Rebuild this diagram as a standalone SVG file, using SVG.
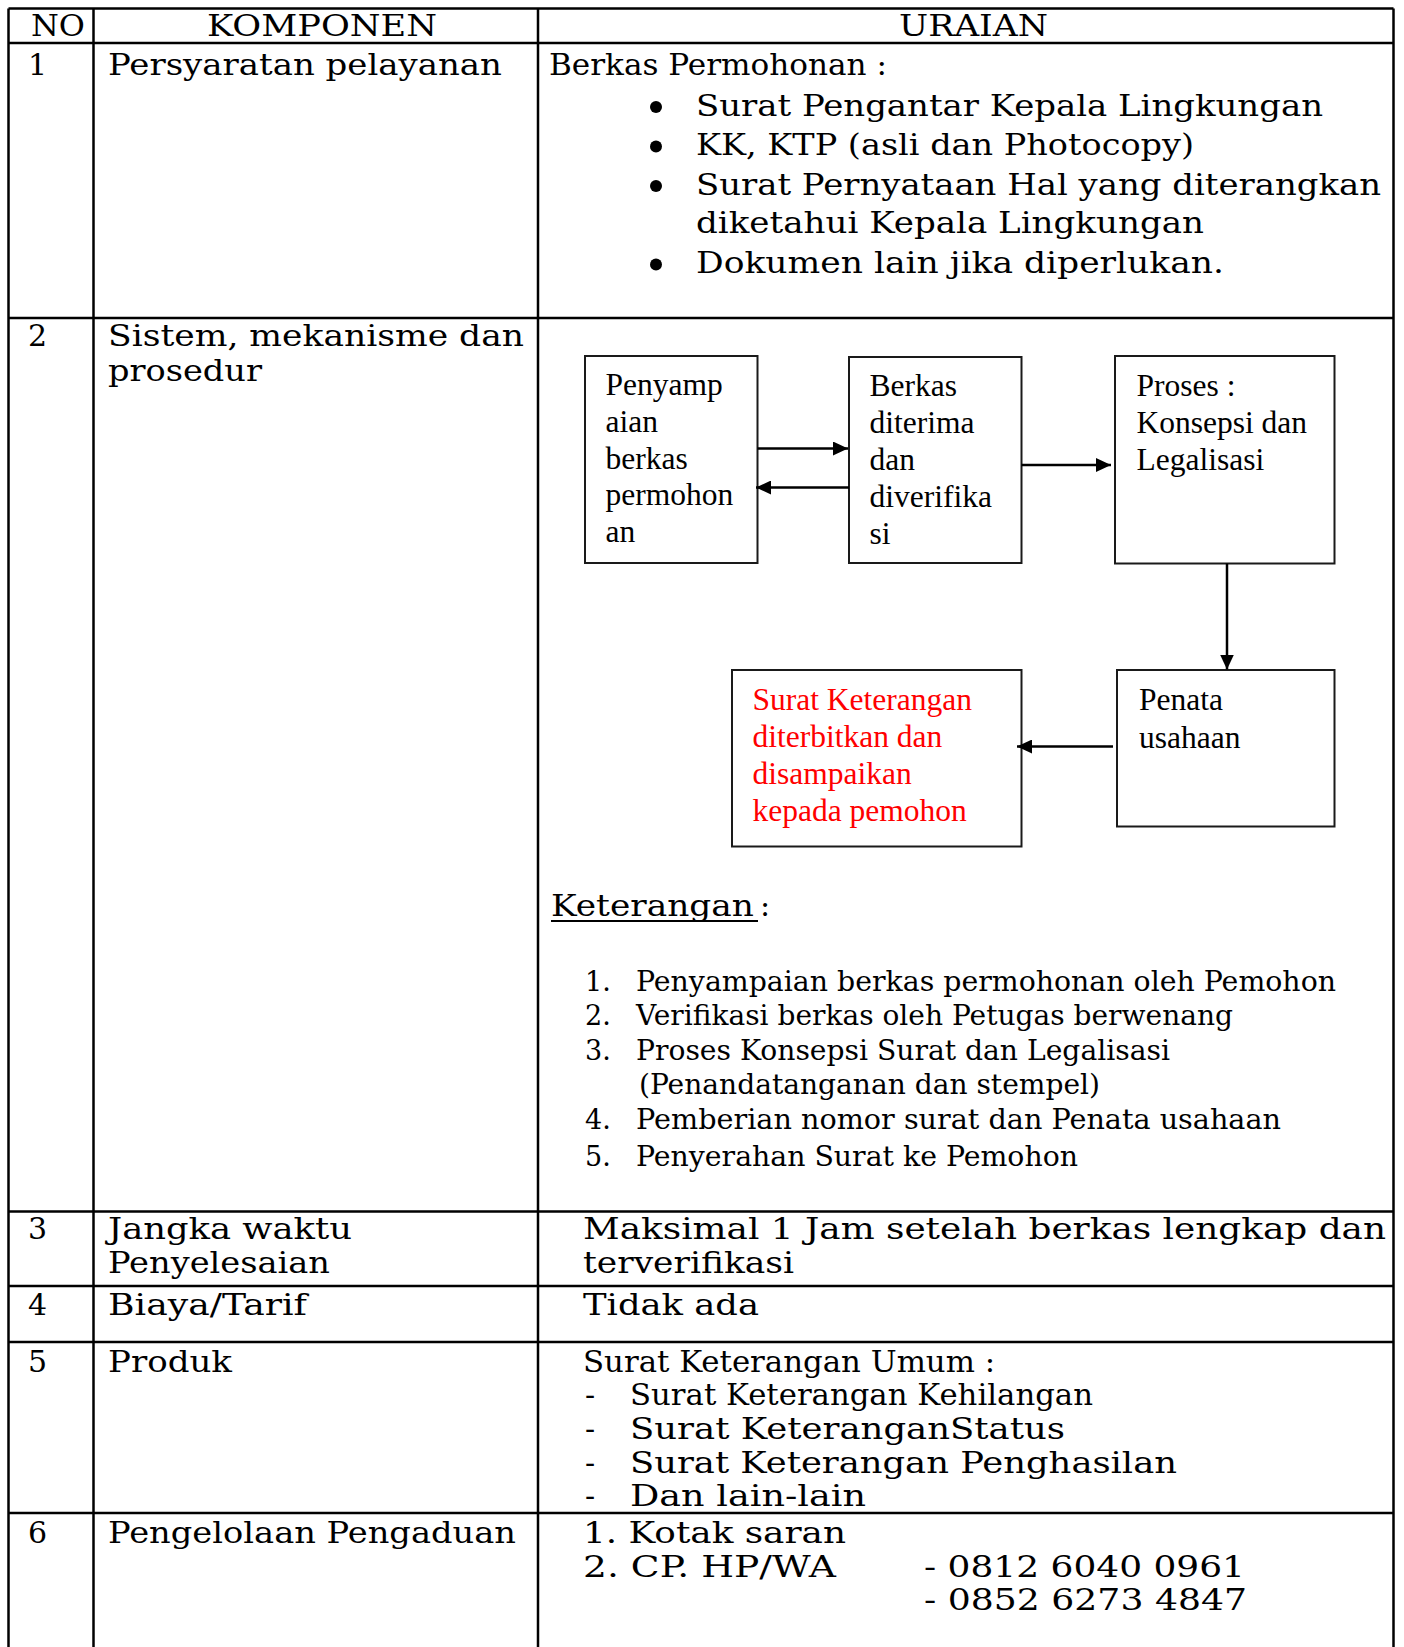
<svg xmlns="http://www.w3.org/2000/svg" width="1404" height="1647" viewBox="0 0 1404 1647">
<style>
.grid{stroke:#000;stroke-width:2.5;fill:none}
.t{font-family:"DejaVu Serif","Liberation Serif",serif;font-size:30px;fill:#000}
.k{font-family:"DejaVu Serif","Liberation Serif",serif;font-size:27px;fill:#000}
.b{font-family:"Liberation Serif","Times New Roman",serif;font-size:31.5px;fill:#000}
.red{fill:#ff0000}
.box{fill:#fff;stroke:#1a1a1a;stroke-width:2}
.conn{stroke:#000;stroke-width:2.5;fill:none}
</style>
<defs>
<marker id="ah" viewBox="0 0 15 14" refX="15" refY="7" markerWidth="15" markerHeight="14" markerUnits="userSpaceOnUse" orient="auto">
<path d="M0,0 L15,7 L0,14 Z" fill="#000"/>
</marker>
</defs>
<rect width="1404" height="1647" fill="#fff"/>

<g id="table">
<line class="grid" x1="8.5" y1="8.5" x2="1393.5" y2="8.5"/>
<line class="grid" x1="8.5" y1="43" x2="1393.5" y2="43"/>
<line class="grid" x1="8.5" y1="318" x2="1393.5" y2="318"/>
<line class="grid" x1="8.5" y1="1211.5" x2="1393.5" y2="1211.5"/>
<line class="grid" x1="8.5" y1="1286" x2="1393.5" y2="1286"/>
<line class="grid" x1="8.5" y1="1342" x2="1393.5" y2="1342"/>
<line class="grid" x1="8.5" y1="1513" x2="1393.5" y2="1513"/>
<line class="grid" x1="8.5" y1="8.5" x2="8.5" y2="1647"/>
<line class="grid" x1="93.5" y1="8.5" x2="93.5" y2="1647"/>
<line class="grid" x1="538" y1="8.5" x2="538" y2="1647"/>
<line class="grid" x1="1393.5" y1="8.5" x2="1393.5" y2="1647"/>
</g>

<g id="header">
<text class="t" x="31" y="36" textLength="54" lengthAdjust="spacingAndGlyphs">NO</text>
<text class="t" x="207" y="36" textLength="230" lengthAdjust="spacingAndGlyphs">KOMPONEN</text>
<text class="t" x="899" y="36" textLength="149" lengthAdjust="spacingAndGlyphs">URAIAN</text>
</g>

<g id="row1">
<text class="t" x="28" y="75">1</text>
<text class="t" x="108" y="75" textLength="394" lengthAdjust="spacingAndGlyphs">Persyaratan pelayanan</text>
<text class="t" x="549" y="75" textLength="338" lengthAdjust="spacingAndGlyphs">Berkas Permohonan :</text>
<circle cx="656" cy="107" r="6"/>
<circle cx="656" cy="146.5" r="6"/>
<circle cx="656" cy="186" r="6"/>
<circle cx="656" cy="264.5" r="6"/>
<text class="t" x="696" y="115.5" textLength="627" lengthAdjust="spacingAndGlyphs">Surat Pengantar Kepala Lingkungan</text>
<text class="t" x="696" y="154.5" textLength="498" lengthAdjust="spacingAndGlyphs">KK, KTP (asli dan Photocopy)</text>
<text class="t" x="696" y="194.5" textLength="685" lengthAdjust="spacingAndGlyphs">Surat Pernyataan Hal yang diterangkan</text>
<text class="t" x="696" y="232.5" textLength="508" lengthAdjust="spacingAndGlyphs">diketahui Kepala Lingkungan</text>
<text class="t" x="696" y="272.5" textLength="528" lengthAdjust="spacingAndGlyphs">Dokumen lain jika diperlukan.</text>
</g>

<g id="row2">
<text class="t" x="28" y="346">2</text>
<text class="t" x="108" y="346" textLength="416" lengthAdjust="spacingAndGlyphs">Sistem, mekanisme dan</text>
<text class="t" x="108" y="381" textLength="154" lengthAdjust="spacingAndGlyphs">prosedur</text>
</g>

<g id="node-penyampaian">
<rect class="box" x="585" y="356" width="172.5" height="207"/>
<text class="b" x="605.5" y="395">Penyamp</text>
<text class="b" x="605.5" y="432">aian</text>
<text class="b" x="605.5" y="468.5">berkas</text>
<text class="b" x="605.5" y="505">permohon</text>
<text class="b" x="605.5" y="542">an</text>
</g>

<g id="node-berkas">
<rect class="box" x="849" y="357" width="172.5" height="206"/>
<text class="b" x="869.5" y="395.5">Berkas</text>
<text class="b" x="869.5" y="433">diterima</text>
<text class="b" x="869.5" y="469.5">dan</text>
<text class="b" x="869.5" y="507">diverifika</text>
<text class="b" x="869.5" y="543.5">si</text>
</g>

<g id="node-proses">
<rect class="box" x="1115" y="356" width="219.5" height="207.5"/>
<text class="b" x="1136.5" y="395.5">Proses :</text>
<text class="b" x="1136.5" y="432.5">Konsepsi dan</text>
<text class="b" x="1136.5" y="469.5">Legalisasi</text>
</g>

<g id="node-penata">
<rect class="box" x="1117" y="670" width="217.5" height="156.5"/>
<text class="b" x="1139" y="709.5">Penata</text>
<text class="b" x="1139" y="747.5">usahaan</text>
</g>

<g id="node-surat">
<rect class="box" x="732" y="670" width="289.5" height="176.5"/>
<text class="b red" x="752.5" y="709.5">Surat Keterangan</text>
<text class="b red" x="752.5" y="747">diterbitkan dan</text>
<text class="b red" x="752.5" y="784">disampaikan</text>
<text class="b red" x="752.5" y="821">kepada pemohon</text>
</g>

<g id="connectors">
<line class="conn" x1="757.5" y1="448.5" x2="848" y2="448.5" marker-end="url(#ah)"/>
<line class="conn" x1="849" y1="487.5" x2="756" y2="487.5" marker-end="url(#ah)"/>
<line class="conn" x1="1021.5" y1="465" x2="1111" y2="465" marker-end="url(#ah)"/>
<line class="conn" x1="1227" y1="563.5" x2="1227" y2="669.5" marker-end="url(#ah)"/>
<line class="conn" x1="1113" y1="746.5" x2="1017" y2="746.5" marker-end="url(#ah)"/>
</g>

<g id="keterangan">
<text class="t" x="551" y="916" textLength="203" lengthAdjust="spacingAndGlyphs">Keterangan</text>
<text class="t" x="760" y="916">:</text>
<line x1="551" y1="921" x2="758" y2="921" stroke="#000" stroke-width="2"/>
<text class="k" x="585" y="991">1.</text>
<text class="k" x="636" y="991" textLength="700" lengthAdjust="spacingAndGlyphs">Penyampaian berkas permohonan oleh Pemohon</text>
<text class="k" x="585" y="1025">2.</text>
<text class="k" x="636" y="1025" textLength="597" lengthAdjust="spacingAndGlyphs">Verifikasi berkas oleh Petugas berwenang</text>
<text class="k" x="585" y="1060">3.</text>
<text class="k" x="636" y="1060" textLength="534" lengthAdjust="spacingAndGlyphs">Proses Konsepsi Surat dan Legalisasi</text>
<text class="k" x="639" y="1094" textLength="461" lengthAdjust="spacingAndGlyphs">(Penandatanganan dan stempel)</text>
<text class="k" x="585" y="1129">4.</text>
<text class="k" x="636" y="1129" textLength="645" lengthAdjust="spacingAndGlyphs">Pemberian nomor surat dan Penata usahaan</text>
<text class="k" x="585" y="1166">5.</text>
<text class="k" x="636" y="1166" textLength="442" lengthAdjust="spacingAndGlyphs">Penyerahan Surat ke Pemohon</text>
</g>

<g id="row3">
<text class="t" x="28" y="1239">3</text>
<text class="t" x="108" y="1239" textLength="244" lengthAdjust="spacingAndGlyphs">Jangka waktu</text>
<text class="t" x="108" y="1273" textLength="222" lengthAdjust="spacingAndGlyphs">Penyelesaian</text>
<text class="t" x="583" y="1239" textLength="803" lengthAdjust="spacingAndGlyphs">Maksimal 1 Jam setelah berkas lengkap dan</text>
<text class="t" x="583" y="1273" textLength="211" lengthAdjust="spacingAndGlyphs">terverifikasi</text>
</g>

<g id="row4">
<text class="t" x="28" y="1315">4</text>
<text class="t" x="108" y="1315" textLength="199" lengthAdjust="spacingAndGlyphs">Biaya/Tarif</text>
<text class="t" x="583" y="1315" textLength="176" lengthAdjust="spacingAndGlyphs">Tidak ada</text>
</g>

<g id="row5">
<text class="t" x="28" y="1372">5</text>
<text class="t" x="108" y="1372" textLength="124" lengthAdjust="spacingAndGlyphs">Produk</text>
<text class="t" x="583" y="1372" textLength="412" lengthAdjust="spacingAndGlyphs">Surat Keterangan Umum :</text>
<text class="t" x="585" y="1405">-</text>
<text class="t" x="630" y="1405" textLength="463" lengthAdjust="spacingAndGlyphs">Surat Keterangan Kehilangan</text>
<text class="t" x="585" y="1439">-</text>
<text class="t" x="630" y="1439" textLength="435" lengthAdjust="spacingAndGlyphs">Surat KeteranganStatus</text>
<text class="t" x="585" y="1473">-</text>
<text class="t" x="630" y="1473" textLength="547" lengthAdjust="spacingAndGlyphs">Surat Keterangan Penghasilan</text>
<text class="t" x="585" y="1506">-</text>
<text class="t" x="630" y="1506" textLength="236" lengthAdjust="spacingAndGlyphs">Dan lain-lain</text>
</g>

<g id="row6">
<text class="t" x="28" y="1543">6</text>
<text class="t" x="108" y="1543" textLength="408" lengthAdjust="spacingAndGlyphs">Pengelolaan Pengaduan</text>
<text class="t" x="583" y="1543" textLength="263" lengthAdjust="spacingAndGlyphs">1. Kotak saran</text>
<text class="t" x="583" y="1577" textLength="253" lengthAdjust="spacingAndGlyphs">2. CP. HP/WA</text>
<text class="t" x="924" y="1577" textLength="321" lengthAdjust="spacingAndGlyphs">- 0812 6040 0961</text>
<text class="t" x="924" y="1610" textLength="323" lengthAdjust="spacingAndGlyphs">- 0852 6273 4847</text>
</g>
</svg>
